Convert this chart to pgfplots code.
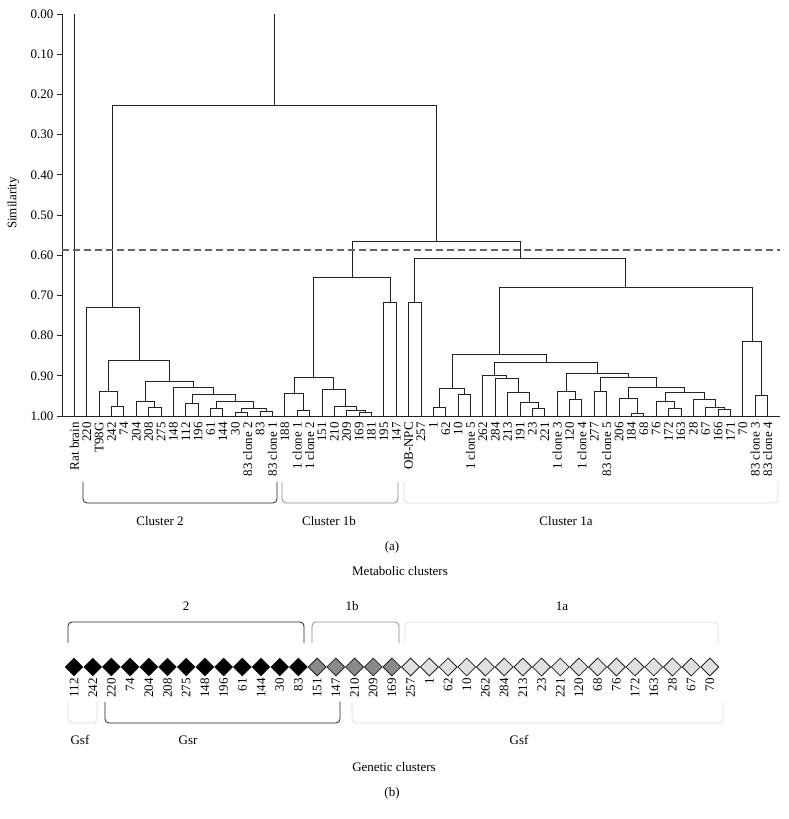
\documentclass[border=0pt]{standalone}
\usepackage{fontspec}
\setmainfont{Liberation Serif}
\usepackage{pgfplots}
\pgfplotsset{compat=1.18}
\definecolor{dend}{HTML}{222222}
\definecolor{midgray}{HTML}{8A8A8A}
\definecolor{lightfill}{HTML}{DDE1E1}
\definecolor{brlight}{HTML}{D8DCDC}
\newcommand\ff{\fontsize{13}{15}\selectfont}
% one dendrogram link: left child (x,h), right child (x,h), merge height
\newcommand\U[5]{\addplot[dend, line width=0.9pt] coordinates {(#1,#2) (#1,#5) (#3,#5) (#3,#4)};}

\begin{document}
\begin{tikzpicture}[x=1pt, y=1pt, font=\ff]
\useasboundingbox (0,0) rectangle (789,819);

% ---------- (a) metabolic dendrogram ----------
\begin{axis}[
  at={(62pt,403pt)}, anchor=south west, scale only axis,
  width=718pt, height=402pt,
  xmin=-1, xmax=57, ymin=0, ymax=1, y dir=reverse,
  axis x line*=bottom, axis y line*=left,
  axis line style={dend, line width=0.9pt},
  ytick={0,0.1,0.2,0.3,0.4,0.5,0.6,0.7,0.8,0.9,1},
  yticklabel style={/pgf/number format/.cd, fixed, fixed zerofill, precision=2},
  ytick pos=left, tick align=outside, major tick length=5pt,
  ytick style={dend, line width=0.8pt},
  xtick={0,...,56}, xtick style={draw=none},
  xticklabels={Rat brain,220,T98G,242,74,204,208,275,148,112,196,61,144,30,83 clone 2,83,83 clone 1,
    188,1 clone 1,1 clone 2,151,210,209,169,181,195,147,
    OB-NPC,257,1,62,10,1 clone 5,262,284,213,191,23,221,1 clone 3,120,1 clone 4,277,83 clone 5,206,184,68,76,172,163,28,67,166,171,70,83 clone 3,83 clone 4},
  x tick label style={rotate=90, anchor=east, inner sep=1pt},
  tick label style={font=\ff},
  /pgf/number format/assume math mode=true,
  ylabel={Similarity}, ylabel style={font=\ff, anchor=center, at={(axis description cs:-0.068,0.53)}},
  clip=false,
]
% Rat brain and root
\addplot[dend, line width=0.9pt] coordinates {(0,1) (0,0)};
\addplot[dend, line width=0.9pt] coordinates {(16.1637,0.227) (16.1637,0)};
% cluster 2
\U{3}{1}{4}{1}{0.976}
\U{2}{1}{3.5}{0.976}{0.940}
\U{6}{1}{7}{1}{0.979}
\U{5}{1}{6.5}{0.979}{0.964}
\U{9}{1}{10}{1}{0.968}
\U{11}{1}{12}{1}{0.982}
\U{13}{1}{14}{1}{0.990}
\U{15}{1}{16}{1}{0.988}
\U{13.5}{0.990}{15.5}{0.988}{0.982}
\U{11.5}{0.982}{14.5}{0.982}{0.965}
\U{9.5}{0.968}{13}{0.965}{0.947}
\U{8}{1}{11.25}{0.947}{0.930}
\U{5.75}{0.964}{9.625}{0.930}{0.913}
\U{2.75}{0.940}{7.6875}{0.913}{0.861}
\U{1}{1}{5.21875}{0.861}{0.729}
% cluster 1b
\U{18}{1}{19}{1}{0.985}
\U{17}{1}{18.5}{0.985}{0.944}
\U{23}{1}{24}{1}{0.992}
\U{22}{1}{23.5}{0.992}{0.985}
\U{21}{1}{22.75}{0.985}{0.975}
\U{20}{1}{21.875}{0.975}{0.934}
\U{17.75}{0.944}{20.9375}{0.934}{0.904}
\U{25}{1}{26}{1}{0.717}
\U{19.34375}{0.904}{25.5}{0.717}{0.655}
% cluster 1a
\U{27}{1}{28}{1}{0.717}
\U{29}{1}{30}{1}{0.978}
\U{31}{1}{32}{1}{0.947}
\U{29.5}{0.978}{31.5}{0.947}{0.932}
\U{37}{1}{38}{1}{0.981}
\U{36}{1}{37.5}{0.981}{0.967}
\U{35}{1}{36.75}{0.967}{0.941}
\U{34}{1}{35.875}{0.941}{0.906}
\U{33}{1}{34.9375}{0.906}{0.898}
\U{40}{1}{41}{1}{0.959}
\U{39}{1}{40.5}{0.959}{0.940}
\U{42}{1}{43}{1}{0.940}
\U{45}{1}{46}{1}{0.994}
\U{44}{1}{45.5}{0.994}{0.956}
\U{48}{1}{49}{1}{0.981}
\U{47}{1}{48.5}{0.981}{0.964}
\U{52}{1}{53}{1}{0.983}
\U{51}{1}{52.5}{0.983}{0.979}
\U{50}{1}{51.75}{0.979}{0.960}
\U{47.75}{0.964}{50.875}{0.960}{0.941}
\U{44.75}{0.956}{49.3125}{0.941}{0.929}
\U{42.5}{0.940}{47.03125}{0.929}{0.905}
\U{39.75}{0.940}{44.765625}{0.905}{0.894}
\U{33.96875}{0.898}{42.2578}{0.894}{0.867}
\U{30.5}{0.932}{38.1133}{0.867}{0.846}
\U{55}{1}{56}{1}{0.950}
\U{54}{1}{55.5}{0.950}{0.815}
\U{34.3066}{0.846}{54.75}{0.815}{0.680}
\U{27.5}{0.717}{44.5283}{0.680}{0.608}
% top joins
\U{22.4219}{0.655}{36.0142}{0.608}{0.566}
\U{3.1094}{0.729}{29.218}{0.566}{0.227}
% cut-off line
\addplot[black!60, line width=1.1pt, dash pattern=on 7pt off 4pt] coordinates {(-1,0.587) (57,0.587)};
\end{axis}

% metabolic cluster brackets
\draw[dend, line width=0.8pt, rounded corners=4pt] (83,337) -- (83,316) -- (277,316) -- (277,337);
\draw[midgray, line width=0.8pt, rounded corners=4pt] (282,337) -- (282,316) -- (398,316) -- (398,337);
\draw[brlight, line width=0.8pt, rounded corners=4pt] (404,337) -- (404,316) -- (778,316) -- (778,337);
\node at (160,298) {Cluster 2};
\node at (329,298) {Cluster 1b};
\node at (566,298) {Cluster 1a};
\node at (392,272) {(a)};
\node at (400,248) {Metabolic clusters};

% ---------- (b) genetic strip ----------
\node at (186,213) {2};
\node at (352,213) {1b};
\node at (562,213) {1a};
\draw[dend, line width=0.8pt, rounded corners=4pt] (68,176) -- (68,197) -- (304,197) -- (304,176);
\draw[midgray, line width=0.8pt, rounded corners=4pt] (312,176) -- (312,197) -- (399,197) -- (399,176);
\draw[brlight, line width=0.8pt, rounded corners=4pt] (405,176) -- (405,197) -- (718,197) -- (718,176);

\begin{axis}[
  at={(62pt,142pt)}, anchor=south west, scale only axis,
  width=718pt, height=20pt,
  xmin=-0.642, xmax=37.75, ymin=-1, ymax=1,
  axis x line*=bottom, axis y line=none,
  x axis line style={draw=none},
  xtick={0,...,34}, xtick style={draw=none},
  xticklabels={112,242,220,74,204,208,275,148,196,61,144,30,83,151,147,210,209,169,257,1,62,10,262,284,213,23,221,120,68,76,172,163,28,67,70},
  x tick label style={rotate=90, anchor=east, inner sep=1pt, font=\ff},
  /pgf/number format/assume math mode=true,
  clip=false,
]
\addplot[only marks, mark=square*, mark size=6.3pt, mark options={rotate=45, fill=black, draw=black}]
  coordinates {(0,0) (1,0) (2,0) (3,0) (4,0) (5,0) (6,0) (7,0) (8,0) (9,0) (10,0) (11,0) (12,0)};
\addplot[only marks, mark=square*, mark size=6.3pt, mark options={rotate=45, fill=midgray, draw=dend, line width=0.8pt}]
  coordinates {(13,0) (14,0) (15,0) (16,0) (17,0)};
\addplot[only marks, mark=square*, mark size=6.3pt, mark options={rotate=45, fill=lightfill, draw=dend, line width=0.8pt}]
  coordinates {(18,0) (19,0) (20,0) (21,0) (22,0) (23,0) (24,0) (25,0) (26,0) (27,0) (28,0) (29,0) (30,0) (31,0) (32,0) (33,0) (34,0)};
\end{axis}

\draw[brlight, line width=0.8pt, rounded corners=4pt] (68,117) -- (68,96) -- (97,96) -- (97,117);
\draw[dend, line width=0.8pt, rounded corners=4pt] (105,117) -- (105,96) -- (340,96) -- (340,117);
\draw[brlight, line width=0.8pt, rounded corners=4pt] (352,117) -- (352,96) -- (723,96) -- (723,117);
\node at (80,79) {Gsf};
\node at (188,79) {Gsr};
\node at (519,79) {Gsf};
\node at (394,52) {Genetic clusters};
\node at (392,26) {(b)};
\end{tikzpicture}
\end{document}
